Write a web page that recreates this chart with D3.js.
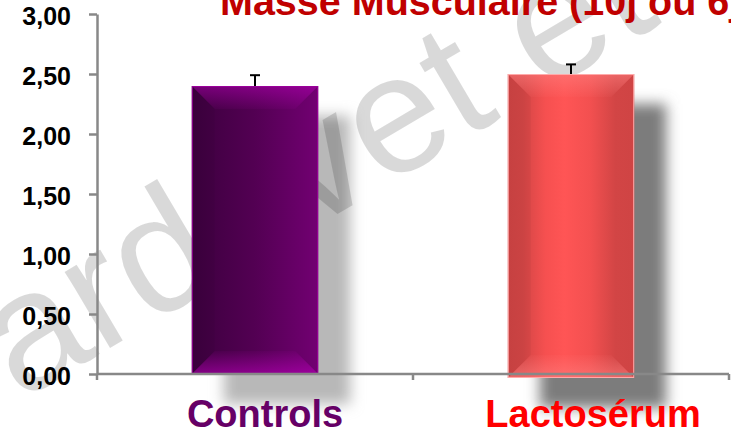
<!DOCTYPE html>
<html>
<head>
<meta charset="utf-8">
<script src="https://cdn.jsdelivr.net/npm/d3@7"></script>
<style>
  html, body { margin: 0; padding: 0; background: #fff; overflow: hidden; }
  svg { display: block; font-family: "Liberation Sans", Arial, sans-serif; }
</style>
</head>
<body>
<svg id="chart" width="731" height="433"></svg>
<script>
// Muscle mass, mean ± error per group
const categories = ["Controls", "Lactosérum"];
const values = [2.40, 2.50];
const errors = [0.09, 0.08];
const yTicks = [0, 0.5, 1, 1.5, 2, 2.5, 3];
const title = "Masse Musculaire (10j ou 6j)";
const watermark = "Dardevet et al.";

// Per-group look
const styles = {
  "Controls": {
    label: "#660066",
    base: [["0%", "#3c003e"], ["50%", "#530053"], ["100%", "#720072"]],
    bevel: "#c000c0", bevelTop: 0.45, bevelBottom: 0.55,
    edge: "#9a009a", shadow: "#b8b8b8", sink: 0
  },
  "Lactosérum": {
    label: "#ff0000",
    base: [["0%", "#cf4444"], ["12%", "#d44646"], ["30%", "#f65050"], ["45%", "#ff5555"],
           ["65%", "#f35050"], ["85%", "#d24545"], ["100%", "#cf4444"]],
    bevel: "#ff8080", bevelTop: 0.55, bevelBottom: 0.6,
    edge: "#ffaaaa", shadow: "#7c7c7c", sink: 4
  }
};

const W = 731, H = 433;
const svg = d3.select("#chart");
const defs = svg.append("defs");

const y = d3.scaleLinear().domain([0, 3]).range([374, 14]);
const x = d3.scaleBand().domain(categories).range([97, 729]).padding(0);
const barW = x.bandwidth() * 0.4;
const bevel = 23;

// blur for drop shadows
defs.append("filter").attr("id", "soft")
  .attr("x", "-50%").attr("y", "-50%").attr("width", "200%").attr("height", "200%")
  .append("feGaussianBlur").attr("stdDeviation", 7);

categories.forEach((c, i) => {
  const s = styles[c];
  const g = defs.append("linearGradient").attr("id", "base" + i)
    .attr("x1", 0).attr("x2", 1).attr("y1", 0).attr("y2", 0);
  s.base.forEach(([o, col]) => g.append("stop").attr("offset", o).attr("stop-color", col));
  const t = defs.append("linearGradient").attr("id", "top" + i)
    .attr("x1", 0).attr("x2", 0).attr("y1", 0).attr("y2", 1);
  t.append("stop").attr("offset", "0%").attr("stop-color", s.bevel).attr("stop-opacity", s.bevelTop);
  t.append("stop").attr("offset", "100%").attr("stop-color", s.bevel).attr("stop-opacity", 0.05);
  const b = defs.append("linearGradient").attr("id", "bot" + i)
    .attr("x1", 0).attr("x2", 0).attr("y1", 0).attr("y2", 1);
  b.append("stop").attr("offset", "0%").attr("stop-color", s.bevel).attr("stop-opacity", 0.05);
  b.append("stop").attr("offset", "100%").attr("stop-color", s.bevel).attr("stop-opacity", s.bevelBottom);
});

const bars = categories.map((c, i) => ({
  c, i, v: values[i], e: errors[i],
  x0: x(c) + (x.bandwidth() - barW) / 2,
  x1: x(c) + (x.bandwidth() + barW) / 2,
  top: y(values[i]),
  bottom: y(0) + styles[c].sink
}));

// shadows
svg.append("g").selectAll("rect").data(bars).join("rect")
  .attr("x", d => d.x0 + 32).attr("y", d => d.top + 30)
  .attr("width", barW).attr("height", d => d.bottom - d.top)
  .attr("fill", d => styles[d.c].shadow)
  .attr("filter", "url(#soft)");

// watermark
svg.append("text")
  .attr("transform", "translate(-85,463) rotate(-30.5)")
  .attr("font-size", 168)
  .attr("font-family", "'Liberation Sans', Arial, sans-serif")
  .attr("fill", "#000").attr("fill-opacity", 0.15)
  .text(watermark);

// bars with bevelled faces
const bg = svg.append("g").selectAll("g").data(bars).join("g");
bg.append("rect")
  .attr("x", d => d.x0).attr("y", d => d.top)
  .attr("width", barW).attr("height", d => d.bottom - d.top)
  .attr("fill", d => "url(#base" + d.i + ")");
bg.append("path")
  .attr("d", d => `M${d.x0},${d.top}L${d.x1},${d.top}L${d.x1 - bevel},${d.top + bevel}L${d.x0 + bevel},${d.top + bevel}Z`)
  .attr("fill", d => "url(#top" + d.i + ")");
bg.append("path")
  .attr("d", d => `M${d.x0},${d.bottom}L${d.x1},${d.bottom}L${d.x1 - bevel},${d.bottom - bevel}L${d.x0 + bevel},${d.bottom - bevel}Z`)
  .attr("fill", d => "url(#bot" + d.i + ")");
bg.append("path")
  .attr("d", d => `M${d.x0},${d.top}L${d.x0 + bevel},${d.top + bevel}L${d.x0 + bevel},${d.bottom - bevel}L${d.x0},${d.bottom}Z`)
  .attr("fill", "#000").attr("fill-opacity", 0.04);
bg.append("rect")
  .attr("x", d => d.x0 + 0.5).attr("y", d => d.top + 0.5)
  .attr("width", barW - 1).attr("height", d => d.bottom - d.top - 1)
  .attr("fill", "none").attr("stroke", d => styles[d.c].edge).attr("stroke-width", 1);

// error bars
const eg = svg.append("g").attr("stroke", "#000").attr("stroke-width", 2);
eg.selectAll("line.v").data(bars).join("line").attr("class", "v")
  .attr("x1", d => (d.x0 + d.x1) / 2).attr("x2", d => (d.x0 + d.x1) / 2)
  .attr("y1", d => y(d.v)).attr("y2", d => y(d.v + d.e));
eg.selectAll("line.c").data(bars).join("line").attr("class", "c")
  .attr("x1", d => (d.x0 + d.x1) / 2 - 5).attr("x2", d => (d.x0 + d.x1) / 2 + 5)
  .attr("y1", d => y(d.v + d.e)).attr("y2", d => y(d.v + d.e));

// y axis
const fmt = d => d3.format(".2f")(d).replace(".", ",");
const ya = svg.append("g").attr("transform", "translate(97,0)")
  .call(d3.axisLeft(y).tickValues(yTicks).tickFormat(fmt).tickSize(8).tickSizeOuter(0).tickPadding(18));
ya.select(".domain").attr("stroke", "#888").attr("stroke-width", 2.5);
ya.selectAll(".tick line").attr("stroke", "#888").attr("stroke-width", 2.5);
ya.selectAll(".tick text")
  .attr("fill", "#000").attr("font-size", 25).attr("font-weight", "bold")
  .attr("font-family", "'Liberation Sans', Arial, sans-serif")
  .attr("dy", "0.42em");

// x axis: baseline with ticks between groups
const xEdges = categories.map(c => x(c)).concat([x.range()[1]]);
const xa = svg.append("g").attr("stroke", "#888").attr("stroke-width", 2.5);
xa.append("line").attr("x1", x.range()[0]).attr("x2", x.range()[1]).attr("y1", y(0)).attr("y2", y(0));
xa.selectAll("line.t").data(xEdges).join("line").attr("class", "t")
  .attr("x1", d => d).attr("x2", d => d).attr("y1", y(0)).attr("y2", y(0) + 6);

// category labels
svg.append("g").selectAll("text").data(bars).join("text")
  .attr("x", d => x(d.c) + x.bandwidth() / 2 + (d.i ? 22 : 10))
  .attr("y", 427)
  .attr("text-anchor", "middle")
  .attr("font-size", 38).attr("font-weight", "bold")
  .attr("fill", d => styles[d.c].label)
  .text(d => d.c);

// title
svg.append("text")
  .attr("x", 220).attr("y", 15)
  .attr("font-size", 39.5).attr("font-weight", "bold")
  .attr("fill", "#c00000")
  .text(title);
</script>
</body>
</html>
